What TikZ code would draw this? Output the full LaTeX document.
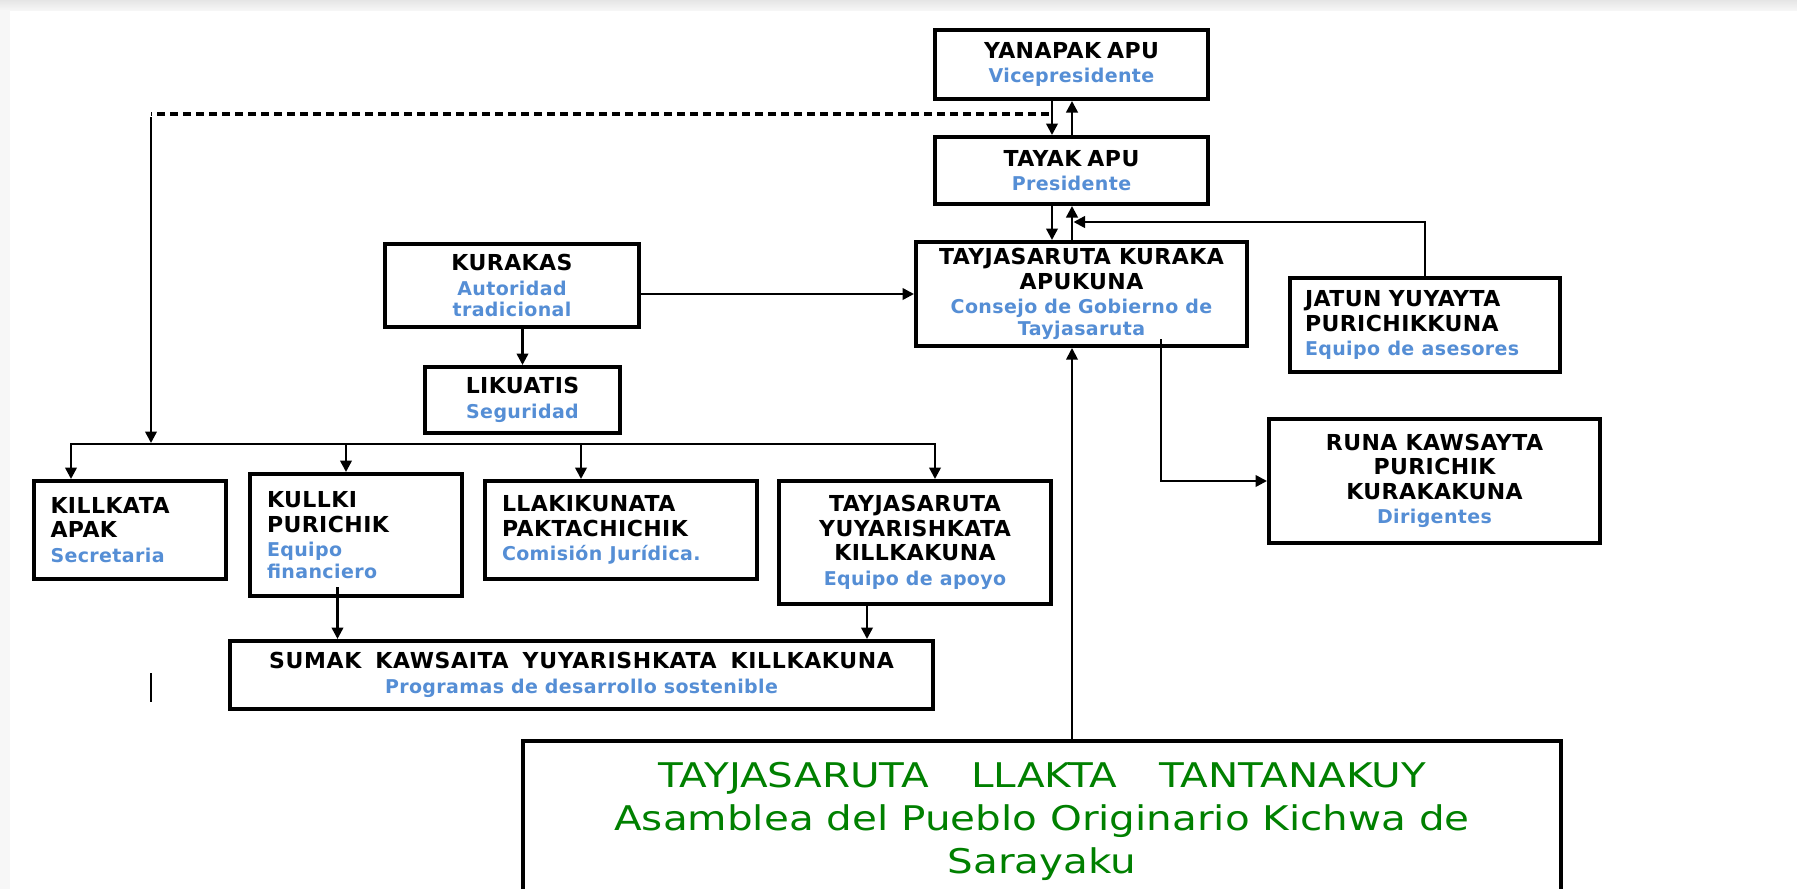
\documentclass[tikz,border=0pt]{standalone}
\usepackage{fontspec}
\setmainfont{DejaVu Sans}
\newfontfamily\grnfont[FakeStretch=1.19]{DejaVu Sans}
\usetikzlibrary{arrows.meta}
\definecolor{cblue}{RGB}{85,142,213}
\definecolor{cgreen}{RGB}{0,128,0}
\newcommand{\bl}[1]{{\color{cblue}\fontsize{19}{22}\selectfont #1}}
\begin{document}
\begin{tikzpicture}[x=1pt,y=-1pt,
  box/.style={draw, line width=4.4pt, inner sep=0pt, align=center,
    font=\bfseries\fontsize{22}{24.5}\selectfont\addfontfeature{LetterSpace=2}},
  lbox/.style={box, align=left},
  arr/.style={line width=2.5pt, -{Triangle[length=11.5pt,width=11.5pt]}},
  conn/.style={line width=2.5pt}
]
\useasboundingbox (0,0) rectangle (1797,889);
\fill[white] (0,0) rectangle (1797,889);
\shade[top color=gray!20, bottom color=gray!7] (0,0) rectangle (1797,10);
\fill[gray!6] (0,10) rectangle (10,889);

% nodes
\node[box, minimum width=272.6pt, minimum height=68.6pt] (yan) at (1071.5,64.5)
  {YANAPAK\hspace{6pt}APU\\\bl{Vicepresidente}};
\node[box, minimum width=272.6pt, minimum height=66.6pt] (tay) at (1071.5,170.5)
  {TAYAK\hspace{6pt}APU\\\bl{Presidente}};
\node[box, minimum width=330.6pt, minimum height=103.6pt] (council) at (1081.5,294)
  {TAYJASARUTA KURAKA\\APUKUNA\\\bl{Consejo de Gobierno de}\\[-3pt]\bl{Tayjasaruta}};
\node[lbox, text width=240pt, minimum width=269.6pt, minimum height=93.6pt] (jatun) at (1425,325)
  {JATUN YUYAYTA\\PURICHIKKUNA\\\bl{Equipo de asesores}};
\node[box, minimum width=330.6pt, minimum height=123.6pt] (runa) at (1434.5,481)
  {RUNA KAWSAYTA\\PURICHIK\\KURAKAKUNA\\\bl{Dirigentes}};
\node[box, minimum width=253.6pt, minimum height=82.6pt] (kurakas) at (512,285.5)
  {KURAKAS\\\bl{Autoridad}\\[-3pt]\bl{tradicional}};
\node[box, minimum width=194.6pt, minimum height=65.6pt] (likuatis) at (522.5,400)
  {LIKUATIS\\\bl{Seguridad}};
\node[lbox, text width=159pt, minimum width=191.6pt, minimum height=97.6pt] (killkata) at (130,530)
  {KILLKATA\\APAK\\\bl{Secretaria}};
\node[lbox, text width=178pt, minimum width=211.6pt, minimum height=121.6pt] (kullki) at (356,535)
  {KULLKI\\PURICHIK\\\bl{Equipo}\\[-3pt]\bl{financiero}};
\node[lbox, text width=238pt, minimum width=271.6pt, minimum height=97.6pt] (llaki) at (621,530)
  {LLAKIKUNATA\\PAKTACHICHIK\\\bl{Comisión Jurídica.}};
\node[box, minimum width=271.6pt, minimum height=122.6pt] (tyk) at (915,542.5)
  {TAYJASARUTA\\YUYARISHKATA\\KILLKAKUNA\\\bl{Equipo de apoyo}};
\node[box, minimum width=702.6pt, minimum height=67.6pt] (sumak) at (581.5,675)
  {{\addfontfeature{LetterSpace=3}SUMAK\hspace{14pt}KAWSAITA\hspace{14pt}YUYARISHKATA\hspace{14pt}KILLKAKUNA}\\\bl{Programas de desarrollo sostenible}};
\node[box, minimum width=1037.6pt, minimum height=160pt, anchor=north] (asm) at (1042,739) {};
\node[align=center, text=cgreen, font=\grnfont\fontsize{34}{43}\selectfont] (asmtxt) at (1042,821)
  {TAYJASARUTA\hspace*{42pt}LLAKTA\hspace*{42pt}TANTANAKUY\\Asamblea del Pueblo Originario Kichwa de\\Sarayaku};

% coordinates
\coordinate (dr) at (1049,114);
\coordinate (dl) at (151,114);
\coordinate (dv) at (151,117);
\coordinate (dvb) at (151,443);
\coordinate (jt) at (1425,222);
\coordinate (jh) at (1073.5,222);
\coordinate (b1) at (71,444);
\coordinate (b2) at (346,444);
\coordinate (b3) at (581,444);
\coordinate (b4) at (935,444);

% connectors
\draw[arr] ([xshift=-19.5pt]yan.south) -- ([xshift=-19.5pt]tay.north);
\draw[arr] ([xshift=0.5pt]tay.north) -- ([xshift=0.5pt]yan.south);
\draw[arr] ([xshift=-19.5pt]tay.south) -- ([xshift=-19.5pt]tay.south |- council.north);
\draw[arr] ([xshift=0.5pt]tay.south |- council.north) -- ([xshift=0.5pt]tay.south);
\draw[arr] (jatun.north) -- (jt) -- (jh);
\draw[line width=3.3pt, dash pattern=on 8pt off 5pt] (dr) -- (dl);
\draw[arr] (dv) -- (dvb);
\draw[conn, line cap=rect] (b1) -- (b4);
\draw[arr] (b1) -- (b1 |- killkata.north);
\draw[arr] (b2) -- (b2 |- kullki.north);
\draw[arr] (b3) -- (b3 |- llaki.north);
\draw[arr] (b4) -- (b4 |- tyk.north);
\draw[arr] (kurakas.east |- council.west) -- (council.west);
\draw[arr] (likuatis.north |- kurakas.south) -- (likuatis.north);
\draw[arr] ([xshift=-18.5pt,yshift=11pt]kullki.south) -- ([xshift=-18.5pt]kullki.south |- sumak.north);
\draw[arr] ([xshift=-48pt]tyk.south) -- ([xshift=-48pt]tyk.south |- sumak.north);
\draw[arr] ([xshift=79.5pt,yshift=9pt]council.south) |- (runa.west);
\draw[line width=1.8pt, -{Triangle[length=11.5pt,width=11.5pt]}] ([xshift=30pt]asm.north) -- ([xshift=30pt]asm.north |- council.south);
\draw[conn] (151,673) -- (151,702);
\end{tikzpicture}
\end{document}
